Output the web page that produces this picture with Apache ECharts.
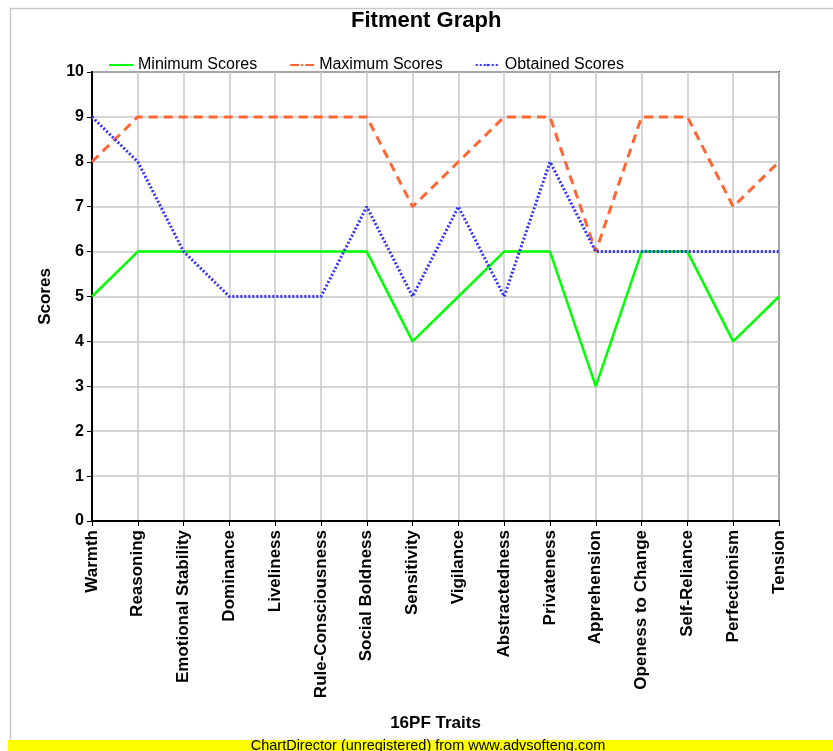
<!DOCTYPE html>
<html>
<head>
<meta charset="utf-8">
<script src="https://cdn.jsdelivr.net/npm/echarts@6/dist/echarts.min.js"></script>
<style>html,body{margin:0;padding:0;background:#fff;}#c{width:833px;height:751px;}</style>
</head>
<body>
<div id="c"></div>
<script>
const categories = ['Warmth','Reasoning','Emotional Stability','Dominance','Liveliness','Rule-Consciousness','Social Boldness','Sensitivity','Vigilance','Abstractedness','Privateness','Apprehension','Openess to Change','Self-Reliance','Perfectionism','Tension'];
const minimumScores = [5,6,6,6,6,6,6,4,5,6,6,3,6,6,4,5];
const maximumScores = [8,9,9,9,9,9,9,7,8,9,9,6,9,9,7,8];
const obtainedScores = [9,8,6,5,5,5,7,5,7,5,8,6,6,6,6,6];

const FONT = 'Liberation Sans, Arial, sans-serif';
const chart = echarts.init(document.getElementById('c'), null, {renderer:'canvas'});
chart.setOption({
  backgroundColor: '#fff',
  animation: false,
  title: {
    text: 'Fitment Graph', left: 351, top: 10, padding: 0,
    textStyle: {fontFamily: FONT, fontSize: 22, fontWeight: 'bold', color: '#000'}
  },
  legend: {
    top: 52, left: 103, itemWidth: 24, itemHeight: 3, itemGap: 32,
    textStyle: {fontFamily: FONT, fontSize: 16, color: '#000'},
    data: ['Minimum Scores','Maximum Scores','Obtained Scores']
  },
  grid: {left: 92, right: 54, top: 72, bottom: 230, show: true, borderColor: '#444', borderWidth: 2},
  xAxis: {
    type: 'category', data: categories, boundaryGap: false,
    name: '16PF Traits', nameLocation: 'middle', nameGap: 194,
    nameTextStyle: {fontFamily: FONT, fontSize: 17, fontWeight: 'bold', color: '#000'},
    axisLine: {lineStyle: {color: '#000', width: 2}},
    axisTick: {show: true, length: 5, lineStyle: {color: '#000'}, alignWithLabel: true},
    axisLabel: {rotate: 90, fontFamily: FONT, fontSize: 17, fontWeight: 'bold', color: '#000', margin: 9, interval: 0},
    splitLine: {show: true, lineStyle: {color: '#c8c8c8', width: 1.5}}
  },
  yAxis: {
    type: 'value', min: 0, max: 10, interval: 1,
    name: 'Scores', nameLocation: 'middle', nameGap: 38,
    nameTextStyle: {fontFamily: FONT, fontSize: 17, fontWeight: 'bold', color: '#000'},
    axisLine: {show: true, lineStyle: {color: '#000', width: 2}},
    axisTick: {show: true, length: 5, lineStyle: {color: '#000'}},
    axisLabel: {fontFamily: FONT, fontSize: 16, fontWeight: 'bold', color: '#000', margin: 8},
    splitLine: {show: true, lineStyle: {color: '#c8c8c8', width: 1.5}}
  },
  series: [
    {name: 'Minimum Scores', type: 'line', data: minimumScores, symbol: 'none', color: '#00ff00',
     lineStyle: {color: '#00ff00', width: 2.5, type: 'solid'}},
    {name: 'Maximum Scores', type: 'line', data: maximumScores, symbol: 'none', color: '#ff6633',
     lineStyle: {color: '#ff6633', width: 3, type: [9, 6]}},
    {name: 'Obtained Scores', type: 'line', data: obtainedScores, symbol: 'none', color: '#3333ff',
     lineStyle: {color: '#3333ff', width: 3, type: [2, 2]}}
  ],
  graphic: [
    {type: 'rect', left: 8, top: 6, shape: {width: 840, height: 734}, style: {fill: 'none', stroke: '#c8c8c8', lineWidth: 1.5}, silent: true, z: -10},
    {type: 'rect', left: 8, top: 740, shape: {width: 825, height: 11}, style: {fill: '#ffff00'}, silent: true},
    {type: 'text', x: 428, y: 746, style: {text: 'ChartDirector (unregistered) from www.advsofteng.com', fontFamily: FONT, fontSize: 14.5, fill: '#000', align: 'center', verticalAlign: 'middle'}}
  ]
});
</script>
</body>
</html>
